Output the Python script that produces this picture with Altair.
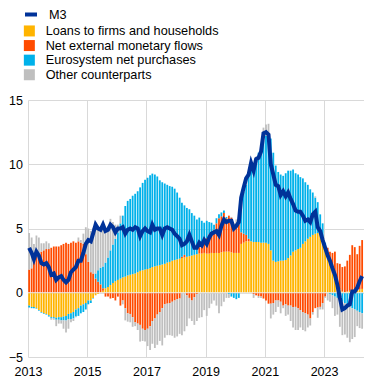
import pandas as pd
import altair as alt

# Monthly data, Jan 2013 - Apr 2024 (annual percentage changes / contributions)
m3 = [
    3.5, 3.1, 2.6, 3.2, 2.9, 2.3, 2.2, 2.3, 2.0, 1.4, 1.5, 1.0,
    1.2, 1.3, 1.0, 0.8, 1.0, 1.6, 1.8, 2.0, 2.5, 2.5, 3.1, 3.8,
    4.1, 4.0, 4.6, 5.3, 5.0, 4.9, 5.3, 4.8, 4.9, 5.3, 5.1, 4.7,
    5.0, 5.0, 5.1, 4.6, 4.9, 5.0, 4.9, 5.1, 5.0, 4.4, 4.8, 5.0,
    4.8, 4.7, 5.3, 4.9, 5.0, 5.0, 4.5, 5.0, 5.1, 5.0, 4.9, 4.6,
    4.4, 4.2, 3.7, 3.8, 4.0, 4.5, 4.0, 3.5, 3.5, 3.9, 3.7, 4.1,
    3.8, 4.3, 4.6, 4.7, 4.8, 4.5, 5.2, 5.7, 5.5, 5.6, 5.6, 5.0,
    5.2, 5.5, 7.4, 8.2, 8.9, 9.2, 10.1, 9.5, 10.4, 10.5, 11.0, 12.4,
    12.5, 12.3, 10.0, 9.2, 8.4, 8.3, 7.6, 7.9, 7.5, 7.8, 7.3, 6.9,
    6.4, 6.3, 6.3, 6.0, 5.6, 5.7, 5.5, 6.1, 6.3, 5.1, 4.8, 4.1,
    3.5, 2.9, 2.5, 1.9, 1.4, 0.6, -0.4, -1.3, -1.2, -1.0, -0.9, 0.1,
    0.1, 0.4, 0.9, 1.3,
]

loans = [
    -1.0, -1.1, -1.1, -1.2, -1.35, -1.5, -1.6, -1.65, -1.75, -1.9, -1.9, -1.95,
    -1.9, -1.9, -1.85, -1.8, -1.65, -1.6, -1.5, -1.3, -1.2, -1.0, -0.9, -0.8,
    -0.6, -0.6, -0.4, -0.2, -0.1, 0.05, 0.15, 0.35, 0.45, 0.6, 0.75, 0.9,
    1.0, 1.1, 1.2, 1.25, 1.35, 1.4, 1.45, 1.5, 1.6, 1.7, 1.75, 1.8,
    1.85, 1.9, 2.0, 2.05, 2.1, 2.15, 2.2, 2.25, 2.35, 2.4, 2.5, 2.55,
    2.6, 2.65, 2.7, 2.75, 2.8, 2.85, 2.9, 2.95, 3.0, 3.05, 3.05, 3.1,
    3.05, 3.05, 3.1, 3.1, 3.1, 3.1, 3.15, 3.2, 3.2, 3.2, 3.15, 3.1,
    3.1, 3.1, 3.8, 3.9, 4.0, 4.0, 4.0, 3.95, 3.95, 3.95, 3.9, 3.9,
    3.9, 3.8, 3.3, 2.5, 2.4, 2.45, 2.5, 2.5, 2.55, 2.7, 2.9, 3.2,
    3.3, 3.4, 3.5, 3.8, 4.0, 4.2, 4.35, 4.5, 4.6, 4.65, 4.5, 4.1,
    3.6, 2.9, 2.1, 1.5, 1.1, 0.5, 0.25, 0.1, 0.05, 0.1, 0.15, 0.2,
    0.15, 0.2, 0.25, 0.3,
]

net_external = [
    1.8, 1.9, 2.4, 2.8, 3.0, 3.2, 3.3, 3.4, 3.4, 3.5, 3.6, 3.6,
    3.6, 3.7, 3.8, 3.9, 3.8, 3.9, 4.0, 3.9, 4.0, 3.9, 3.8, 3.0,
    2.4, 1.6, 1.5, 1.1, 0.85, 0.6, 0.2, -0.3, -0.3, -0.45, -0.4, -0.6,
    -0.3, -1.0, -0.6, -1.2, -1.6, -1.65, -1.9, -2.3, -2.4, -2.5, -2.8, -2.9,
    -2.8, -2.6, -2.2, -2.0, -1.7, -1.5, -1.2, -0.9, -0.85, -0.8, -0.7, -0.6,
    -0.5, -0.45, 0.1, 0.2, -0.2, -0.4, -0.6, -0.35, -0.1, 0.5, 0.6, 0.8,
    1.2, 1.5, 1.6, 1.8, 2.3, 2.7, 2.8, 3.0, 2.6, 2.8, 2.7, 2.1,
    2.0, 2.2, 0.9, 0.7, 0.5, 0.2, 0.0, -0.1, -0.2, -0.25, -0.3, -0.45,
    -0.6, -0.85, -0.85, -0.8, -0.6, -0.6, -0.7, -1.0, -0.9, -1.0, -1.0, -1.1,
    -1.1, -1.2, -1.35, -1.5, -1.6, -1.7, -2.0, -1.5, -1.2, -1.15, -1.1, -0.8,
    -0.3, 0.6, 1.1, 1.6, 2.1, 1.8, 2.0, 1.9, 2.0, 2.4, 2.8, 3.5,
    3.4, 2.8, 3.4, 3.8,
]

eurosystem = [
    -0.15, -0.1, -0.1, -0.05, -0.05, -0.05, -0.05, -0.05, -0.1, -0.1, -0.1, -0.15,
    -0.2, -0.25, -0.3, -0.35, -0.4, -0.45, -0.5, -0.55, -0.6, -0.6, -0.6, -0.5,
    -0.3, -0.2, -0.05, 0.4, 0.9, 1.3, 1.7, 2.0, 2.3, 2.7, 3.0, 3.3,
    3.7, 4.3, 4.8, 5.5, 5.8, 5.9, 6.1, 6.2, 6.3, 6.5, 6.8, 7.0,
    7.1, 7.25, 7.27, 7.15, 6.95, 6.6, 6.4, 6.25, 6.05, 5.9, 5.75, 5.55,
    5.2, 4.75, 4.2, 3.85, 3.8, 3.65, 3.3, 3.05, 2.7, 2.3, 1.95, 1.55,
    1.35, 0.95, 0.75, 0.4, 0.4, 0.3, 0.3, 0.2, 0.1, -0.1, -0.3, -0.4,
    -0.5, -0.4, 1.75, 3.25, 3.9, 5.0, 5.6, 5.95, 6.25, 6.95, 7.5, 7.9,
    8.3, 8.4, 8.7, 8.4, 7.5, 6.95, 6.7, 6.6, 6.75, 6.8, 6.6, 6.4,
    6.0, 5.8, 5.5, 5.1, 4.6, 4.2, 3.7, 3.3, 2.8, 2.4, 1.6, 1.3,
    0.3, 0.0, -0.1, -0.2, -0.3, -0.4, -0.5, -0.7, -0.8, -0.9, -1.0, -1.2,
    -1.3, -1.4, -1.5, -1.6,
]

other = [
    2.85, 2.4, 1.4, 1.65, 1.3, 0.65, 0.55, 0.6, 0.45, -0.1, -0.1, -0.5,
    -0.3, -0.25, -0.65, -0.95, -0.75, -0.25, -0.2, -0.05, 0.3, 0.2, 0.8, 2.1,
    2.6, 3.2, 3.55, 4.0, 3.35, 2.95, 3.25, 2.75, 2.45, 2.45, 1.75, 1.1,
    0.6, 0.6, -0.3, -0.95, -0.65, -0.65, -0.75, -0.3, -0.5, -1.3, -0.95, -0.9,
    -1.35, -1.85, -1.77, -2.3, -2.35, -2.25, -2.9, -2.6, -2.45, -2.5, -2.65, -2.9,
    -2.9, -2.75, -3.3, -3.0, -2.4, -1.6, -1.6, -2.15, -2.1, -1.95, -1.9, -1.35,
    -1.8, -1.2, -0.85, -0.6, -1.0, -1.6, -1.05, -0.7, -0.4, -0.3, 0.05, 0.2,
    0.6, 0.6, 0.95, 0.35, 0.5, 0.0, 0.5, -0.3, 0.4, -0.15, -0.1, 1.05,
    0.9, 0.95, -1.15, -0.9, -0.9, -0.5, -0.9, -0.2, -0.9, -0.7, -1.2, -1.6,
    -1.8, -1.7, -1.35, -1.4, -1.4, -1.0, -0.55, -0.2, 0.1, -0.8, -0.2, -0.5,
    -0.1, -0.6, -0.6, -1.0, -1.5, -1.3, -2.15, -2.6, -2.45, -2.6, -2.85, -2.4,
    -2.15, -1.2, -1.25, -1.2,
]

series_names = [
    "Loans to firms and households",
    "Net external monetary flows",
    "Eurosystem net purchases",
    "Other counterparts",
]
series_colors = ["#FFB400", "#FF4B00", "#00B1EA", "#BFBFBF"]
year_ticks = [2013, 2015, 2017, 2019, 2021, 2023]
y_ticks = [-5, 0, 5, 10, 15]

dates = pd.date_range("2013-01-01", periods=len(m3), freq="MS") + pd.Timedelta(days=14)

rows = []
for k, (name, vals) in enumerate(zip(series_names, [loans, net_external, eurosystem, other])):
    for d, v in zip(dates, vals):
        rows.append({"date": d, "series": name, "value": v, "ord": k})
bars_df = pd.DataFrame(rows)
m3_df = pd.DataFrame({"date": dates, "value": m3, "name": "M3"})

FONT = "Liberation Sans"

x_scale = alt.Scale(
    domain=[alt.DateTime(year=2013, month=1, date=1), alt.DateTime(year=2024, month=5, date=8)],
    nice=False,
    padding=0,
)
x_enc = alt.X(
    "date:T",
    title=None,
    scale=x_scale,
    axis=alt.Axis(
        values=[alt.DateTime(year=y, month=1, date=1) for y in year_ticks],
        format="%Y",
        labelFlush=False,
        labelPadding=8,
        grid=True,
    ),
)
y_scale = alt.Scale(domain=[-5, 15], nice=False, padding=0)

bars = alt.Chart(bars_df).mark_bar(size=1.8).encode(
    x=x_enc,
    y=alt.Y("value:Q", stack="zero", title=None, scale=y_scale,
            axis=alt.Axis(values=y_ticks, labelPadding=5.5, grid=True)),
    color=alt.Color(
        "series:N",
        scale=alt.Scale(domain=series_names, range=series_colors),
        legend=alt.Legend(
            title=None, orient="none", legendX=-5, legendY=-75.4,
            symbolType="square", symbolSize=121, symbolStrokeWidth=0,
            labelFont=FONT, labelFontSize=12.7, labelColor="#000000",
            labelOffset=10, rowPadding=0.6, padding=0, labelLimit=300,
        ),
    ),
    order=alt.Order("ord:Q"),
)

zero_rule = alt.Chart(pd.DataFrame({"y": [0]})).mark_rule(
    color="#EDEDED", strokeWidth=1
).encode(y=alt.Y("y:Q", scale=y_scale))

line = alt.Chart(m3_df).mark_line(strokeWidth=4).encode(
    x=alt.X("date:T", scale=x_scale),
    y=alt.Y("value:Q", scale=y_scale),
    stroke=alt.Stroke(
        "name:N",
        scale=alt.Scale(domain=["M3"], range=["#003299"]),
        legend=alt.Legend(
            title=None, orient="none", legendX=-5, legendY=-93.5,
            symbolType="stroke", symbolSize=144, symbolStrokeWidth=4,
            labelFont=FONT, labelFontSize=12.7, labelColor="#000000",
            labelOffset=10, padding=0,
        ),
    ),
)

chart = (
    alt.layer(bars, zero_rule, line)
    .properties(
        width=336, height=257,
        padding={"left": 20, "top": 92, "right": 0, "bottom": 25},
        autosize=alt.AutoSizeParams(type="none"),
    )
    .configure_view(strokeWidth=0)
    .configure_axis(
        gridColor="#D9D9D9", gridWidth=1, domain=False, ticks=False,
        labelFont=FONT, labelFontSize=12.5, labelColor="#000000",
    )
)

chart.save("out.html", embed_options={"renderer": "svg", "actions": False})
